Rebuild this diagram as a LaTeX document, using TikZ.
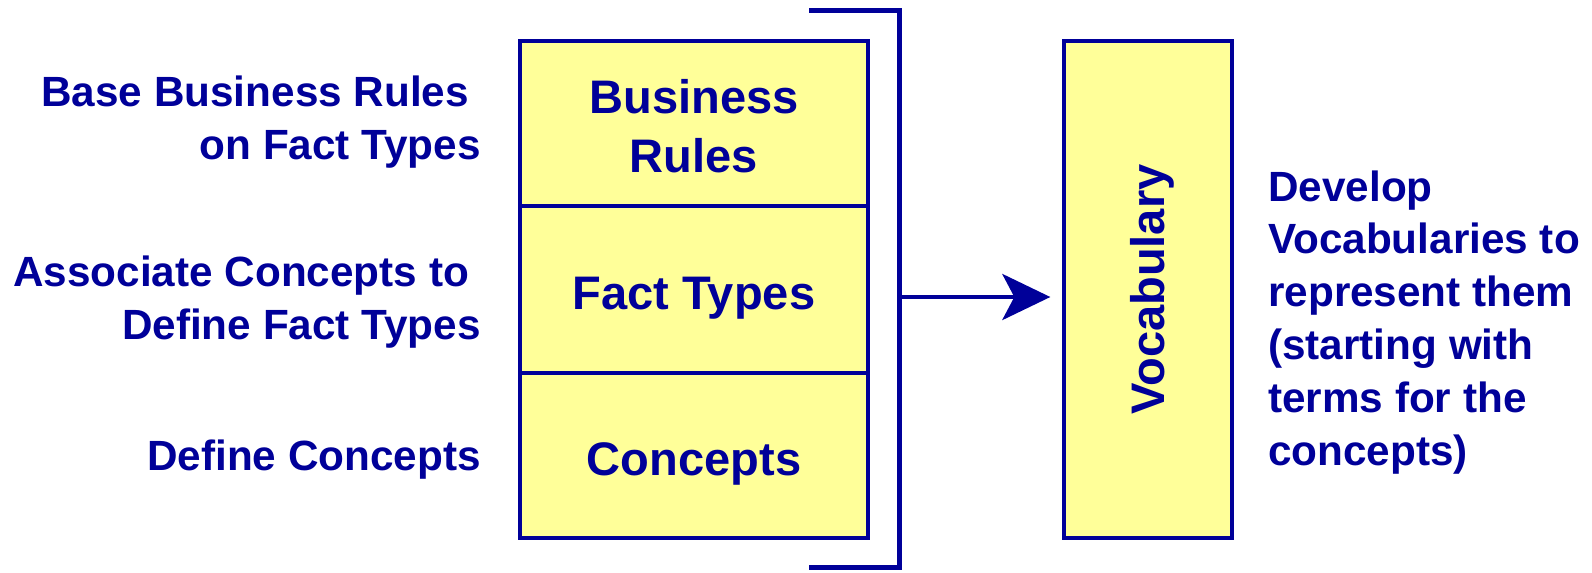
\documentclass[tikz,border=0pt]{standalone}
\usepackage{fontspec}
\setmainfont{Liberation Sans}
\usetikzlibrary{arrows.meta}
\definecolor{navy}{RGB}{0,0,153}
\definecolor{pale}{RGB}{255,255,153}
\tikzset{
  px/.style={x=0.75pt,y=-0.75pt},
  layerbox/.style={draw=navy, fill=pale, line width=2.5pt, minimum width=261pt,
    align=center, text=navy, inner sep=0pt, text depth=0pt,
    font=\fontsize{35.3}{44.25}\selectfont\bfseries},
  sidelabel/.style={text=navy, inner sep=0pt,
    font=\fontsize{31.7}{39.6}\selectfont\bfseries},
  brackline/.style={draw=navy, line width=3.75pt},
  flowarrow/.style={draw=navy, line width=3.4pt,
    -{Stealth[length=36pt, width=34.5pt, inset=9pt]}}
}
\begin{document}
\begin{tikzpicture}[px]
\useasboundingbox (0,0) rectangle (1592,572);
% stacked layers
\node[layerbox, minimum height=123.75pt, text height=72.75pt] (rules) at (694,123.5) {Business\\Rules};
\node[layerbox, minimum height=125.25pt, text height=29.25pt] (facts) at (694,289.5) {Fact Types};
\node[layerbox, minimum height=123.75pt, text height=30.5pt] (concepts) at (694,455.5) {Concepts};
% vocabulary box
\node[layerbox, rotate=90, minimum width=372.75pt, minimum height=126pt, text height=25pt] (voc) at (1148,289.5) {Vocabulary};
% left labels
\node[sidelabel, align=right, anchor=base east] (l1) at (481,159) {Base Business Rules\kern0.278em\\on Fact Types};
\node[sidelabel, align=right, anchor=base east] (l2) at (481,339) {Associate Concepts to\kern0.278em\\Define Fact Types};
\node[sidelabel, align=right, anchor=base east] (l3) at (481,470) {Define Concepts};
% right label
\node[sidelabel, align=left, anchor=base west] (r1) at (1268,465) {Develop\\Vocabularies to\\represent them\\(starting with\\terms for the\\concepts)};
% bracket
\coordinate (bt) at (809,10);
\coordinate (bb) at (809,567);
\coordinate (br) at (899,297);
\draw[brackline] (bt) -- (bt -| br) -- (bb -| br) -- (bb);
% arrow
\draw[flowarrow, shorten >=9pt] (br) -- (br -| voc.north);
\end{tikzpicture}
\end{document}
